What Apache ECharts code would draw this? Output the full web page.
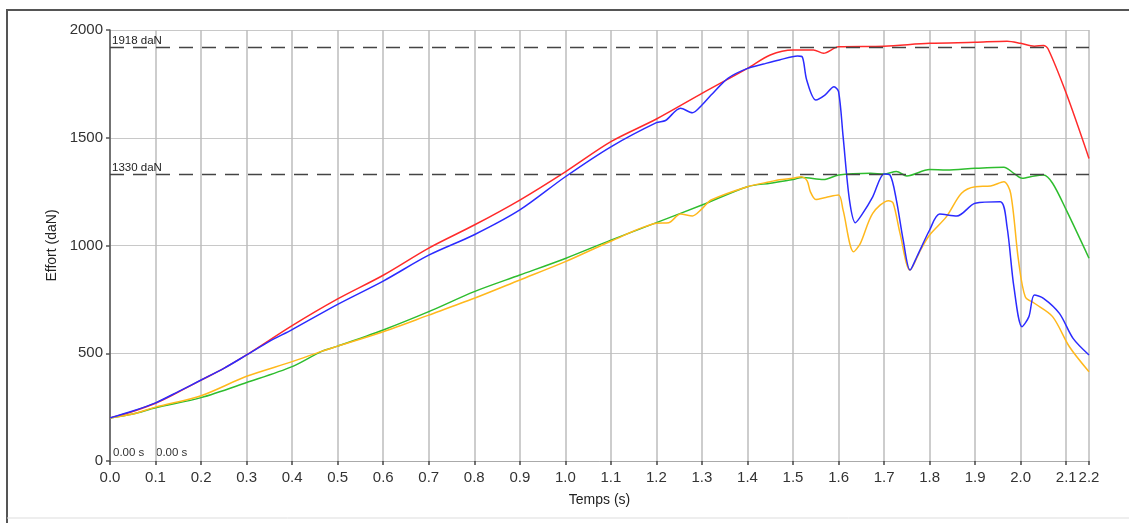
<!DOCTYPE html>
<html><head><meta charset="utf-8">
<script src="https://cdn.jsdelivr.net/npm/echarts@6/dist/echarts.min.js"></script>
<style>html,body{margin:0;padding:0;background:#fff}#c{width:1129px;height:523px}</style>
</head><body><div id="c"></div>
<script>
// ---- data (time s, effort daN) ----
const redData = [[0,200],[0.05,230],[0.1,268],[0.15,320],[0.2,375],[0.25,430],[0.3,492],[0.4,628],[0.5,752],[0.6,862],[0.7,988],[0.8,1095],[0.9,1211],[1.0,1342],[1.1,1482],[1.2,1587],[1.3,1706],[1.4,1822],[1.45,1884],[1.5,1907],[1.545,1907],[1.567,1892],[1.6,1922],[1.7,1925],[1.8,1938],[1.9,1943],[1.97,1948],[2.0,1938],[2.03,1925],[2.05,1928],[2.06,1913],[2.1,1706],[2.15,1404]];
const blueData = [[0,200],[0.05,232],[0.1,270],[0.15,322],[0.2,376],[0.25,430],[0.3,492],[0.35,555],[0.4,610],[0.5,727],[0.6,835],[0.7,955],[0.8,1050],[0.9,1165],[1.0,1319],[1.1,1458],[1.2,1570],[1.22,1580],[1.253,1637],[1.279,1616],[1.3,1652],[1.32,1698],[1.357,1776],[1.4,1822],[1.435,1842],[1.47,1861],[1.51,1879],[1.52,1876],[1.53,1768],[1.55,1675],[1.57,1698],[1.59,1737],[1.6,1714],[1.61,1505],[1.624,1211],[1.637,1106],[1.653,1149],[1.675,1226],[1.7,1332],[1.713,1327],[1.727,1211],[1.742,1025],[1.757,886],[1.772,948],[1.8,1072],[1.822,1146],[1.86,1137],[1.9,1196],[1.955,1203],[1.97,1087],[1.985,809],[2.003,623],[2.018,670],[2.03,770],[2.05,755],[2.085,685],[2.115,569],[2.15,492]];
const greenData = [[0,200],[0.05,218],[0.1,247],[0.2,294],[0.3,364],[0.4,438],[0.466,510],[0.5,533],[0.6,608],[0.7,693],[0.8,786],[0.9,863],[1.0,940],[1.1,1025],[1.2,1106],[1.3,1188],[1.4,1273],[1.45,1289],[1.5,1306],[1.52,1316],[1.567,1306],[1.6,1327],[1.67,1335],[1.7,1332],[1.727,1343],[1.75,1323],[1.8,1353],[1.837,1350],[1.9,1358],[1.963,1363],[1.985,1335],[2.003,1312],[2.03,1323],[2.05,1327],[2.07,1289],[2.1,1165],[2.15,941]];
const orangeData = [[0,200],[0.05,218],[0.1,250],[0.2,303],[0.3,393],[0.4,461],[0.466,510],[0.5,533],[0.6,600],[0.7,677],[0.8,755],[0.9,840],[1.0,925],[1.1,1020],[1.2,1103],[1.227,1106],[1.253,1146],[1.279,1137],[1.3,1170],[1.32,1211],[1.4,1273],[1.45,1296],[1.47,1305],[1.5,1312],[1.518,1319],[1.531,1300],[1.538,1250],[1.55,1214],[1.572,1223],[1.6,1234],[1.61,1164],[1.633,971],[1.648,1010],[1.675,1149],[1.71,1208],[1.72,1196],[1.735,1056],[1.757,886],[1.78,979],[1.8,1049],[1.837,1134],[1.87,1242],[1.9,1273],[1.934,1276],[1.963,1296],[1.978,1242],[1.995,933],[2.01,762],[2.03,732],[2.07,670],[2.107,530],[2.15,414]];
const refLevels = [1918, 1330];
const refLabels = ['1918 daN', '1330 daN'];
const cursorLabels = ['0.00 s', '0.00 s'];
const xEndLabel = '2.2';
const xMax = 2.15;

const font = 'Liberation Sans, Arial, sans-serif';
const chart = echarts.init(document.getElementById('c'));
function line(name, data, color, extra) {
  return Object.assign({
    name, type: 'line', data, smooth: 0.3, symbol: 'none',
    lineStyle: { color, width: 1.5 }, itemStyle: { color }, z: 3
  }, extra || {});
}
chart.setOption({
  animation: false,
  backgroundColor: '#fff',
  grid: { left: 110, right: 40, top: 30, bottom: 62 },
  xAxis: {
    type: 'value', min: 0, max: xMax, interval: 0.1,
    name: 'Temps (s)', nameLocation: 'middle', nameGap: 32,
    nameTextStyle: { fontFamily: font, fontSize: 14, color: '#222' },
    axisLine: { show: true, lineStyle: { color: '#aaa', width: 1 } },
    axisTick: { show: true, length: 4, lineStyle: { color: '#444', width: 1.5 } },
    axisLabel: { fontFamily: font, fontSize: 15, color: '#333', margin: 9,
      showMaxLabel: true,
      formatter: v => (v > xMax - 0.01 ? xEndLabel : v.toFixed(1)) },
    splitLine: { show: true, lineStyle: { color: '#bcbcbc', width: 1.5 } }
  },
  yAxis: {
    type: 'value', min: 0, max: 2000, interval: 500,
    name: 'Effort (daN)', nameLocation: 'middle', nameGap: 51,
    nameTextStyle: { fontFamily: font, fontSize: 14, color: '#222' },
    axisLine: { show: true, lineStyle: { color: '#555', width: 1.5 } },
    axisTick: { show: true, length: 4, lineStyle: { color: '#555', width: 1.5 } },
    axisLabel: { fontFamily: font, fontSize: 15, color: '#333', margin: 7,
      formatter: v => String(v) },
    splitLine: { show: true, lineStyle: { color: '#c8c8c8', width: 1.2 } }
  },
  series: [
    line('green', greenData, '#2ebd2e', {
      markLine: {
        silent: true, symbol: 'none',
        lineStyle: { color: '#444', type: [14, 9], width: 1.3 },
        label: { show: true, position: 'insideStartTop', distance: [2, 1],
          fontFamily: font, fontSize: 11.5, color: '#222',
          formatter: p => refLabels[p.dataIndex] },
        data: refLevels.map(v => ({ yAxis: v }))
      }
    }),
    line('red', redData, '#ff2a2a'),
    line('orange', orangeData, '#ffb81c'),
    line('blue', blueData, '#2b2bff')
  ],
  graphic: [
    { type: 'polyline', shape: { points: [[7, 523], [7, 10], [1129, 10]] }, style: { stroke: '#555', lineWidth: 2, fill: null } },
    { type: 'line', shape: { x1: 7, y1: 518, x2: 1129, y2: 518 }, style: { stroke: '#ddd', lineWidth: 1 } },
    { type: 'text', left: 113, top: 447, style: { text: cursorLabels[0], font: '11.5px ' + font, fill: '#333' } },
    { type: 'text', left: 156, top: 447, style: { text: cursorLabels[1], font: '11.5px ' + font, fill: '#333' } }
  ]
});
</script></body></html>
